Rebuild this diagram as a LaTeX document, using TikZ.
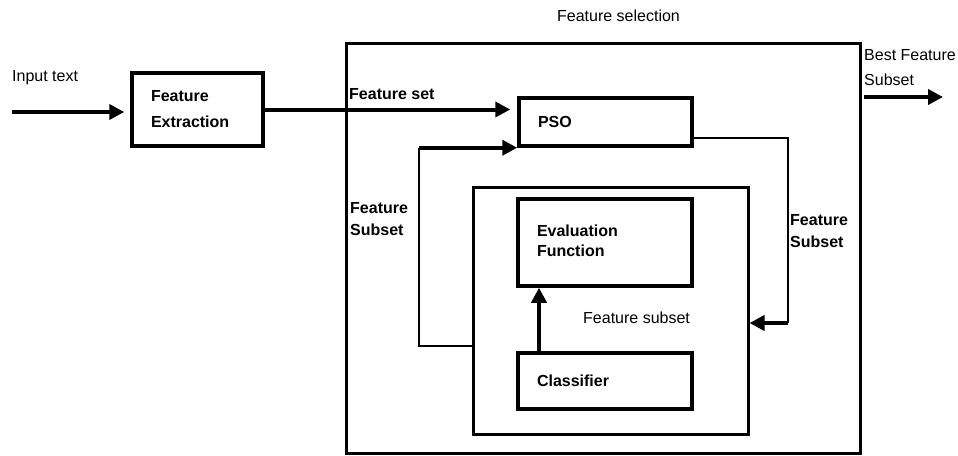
\documentclass[tikz,border=0pt]{standalone}
\usepackage{fontspec}
\setmainfont{Liberation Sans}
\usetikzlibrary{arrows.meta}
\newcommand{\txtsize}{\fontsize{16}{19}\selectfont}
\tikzstyle{block} = [rectangle, draw=black, line width=3.5pt, align=left, inner xsep=19pt, font=\txtsize\bfseries]
\tikzstyle{frame} = [rectangle, draw=black, line width=3pt, inner sep=0pt]
\tikzstyle{arrow} = [line width=4pt, ->, >={Triangle[length=15pt,width=15pt]}]
\tikzstyle{line} = [line width=1.2pt]
\tikzstyle{lbl} = [align=left, anchor=west, inner sep=0pt, font=\txtsize]
\tikzstyle{boldlbl} = [lbl, font=\txtsize\bfseries]

\begin{document}
\begin{tikzpicture}[x=1pt, y=-1pt]
\useasboundingbox (0,0) rectangle (958,455);
% frames
\node (outer) [frame, minimum width=514pt, minimum height=410pt] at (603,248) {};
\node (inner) [frame, minimum width=275pt, minimum height=247pt] at (610.5,310.5) {};
% blocks
\node (fe) [block, text width=93pt, minimum height=73pt] at (197.5,109.5) {Feature\\[7pt]Extraction};
\node (pso) [block, text width=135pt, minimum height=48pt] at (605.5,122) {PSO};
\node (eval) [block, text width=136pt, minimum height=87pt, text depth=23pt] at (605,242.5) {Evaluation\\[1pt]Function};
\node (cls) [block, text width=136pt, minimum height=56pt] at (605,381) {Classifier};
% labels
\node (intext) [lbl] at (12,78) {Input text};
\node (fsel) [font=\txtsize] at (618.5,16) {Feature selection};
\node (fset) [boldlbl] at (349,94) {Feature set};
\node (lsub) [boldlbl] at (350,219) {Feature\\[3pt]Subset};
\node (rsub) [boldlbl] at (790,231) {Feature\\[3pt]Subset};
\node (isub) [lbl] at (583,318) {Feature subset};
\node (best) [lbl] at (864,67.5) {Best Feature\\[6pt]Subset};
% free ends and bends
\coordinate (in) at (12,112);
\coordinate (lc) at (419,346);
\coordinate (rc) at (788,138);
\coordinate (rd) at (788,323);
\coordinate (up) at (539,0);
\coordinate (bs) at (864,97);
\coordinate (be) at (943,97);
% connectors
\draw [arrow, shorten >=6pt] (in) -- (in -| fe.west);
\draw [arrow, shorten >=7pt] (fe.east) -- (fe.east -| pso.west);
\draw [line] (inner.west |- lc) -- (lc) -- (lc |- pso.south);
\draw [arrow] (lc |- pso.south) -- (pso.south west);
\draw [line] (pso.east |- rc) -- (rc) -- (rd);
\draw [arrow] (rd) -- (rd -| inner.east);
\draw [arrow] (cls.north -| up) -- (eval.south -| up);
\draw [arrow] (bs) -- (be);
\end{tikzpicture}
\end{document}
